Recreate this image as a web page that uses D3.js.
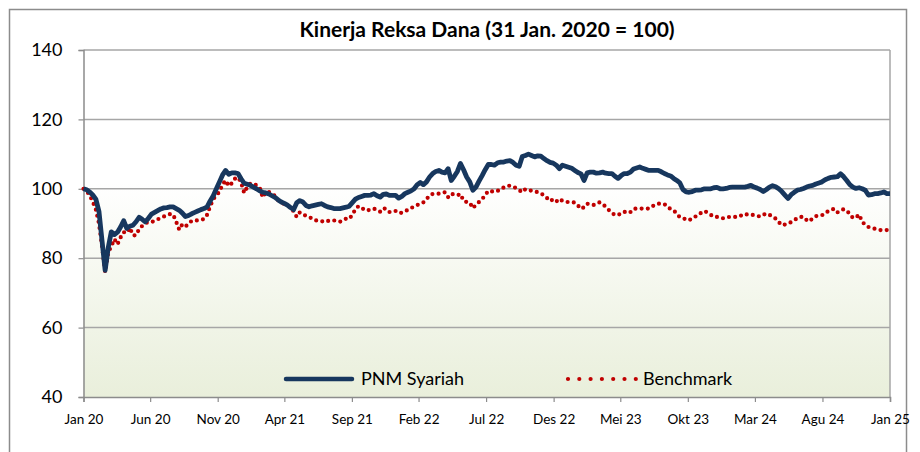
<!DOCTYPE html>
<html>
<head>
<meta charset="utf-8">
<script src="https://cdn.jsdelivr.net/npm/d3@7"></script>
<style>
  body { margin: 0; background: #fff; }
  svg { display: block; }
  .axis text { font-family: Lato, "Open Sans", sans-serif; fill: #000; }
</style>
</head>
<body>
<div id="chart"></div>
<script>
// weekly values, first point = 31 Jan 2020
var startDate = new Date(2020, 0, 31);

var pnmSyariah = [
  100.0, 99.7, 99.1, 98.2, 97.0, 93.5, 85.0, 76.5, 83.0, 87.6, 86.8, 87.5, 89.0,
  90.8, 88.6, 89.2, 89.5, 90.5, 91.8, 91.2, 90.5, 91.5, 92.7, 93.2, 93.7, 94.2,
  94.5, 94.6, 94.8, 94.8, 94.3, 93.8, 93.0, 92.0, 92.3, 92.8, 93.2, 93.6, 94.0,
  94.3, 94.8, 96.5, 98.0, 100.0, 102.0, 104.0, 105.3, 104.2, 104.6, 104.6, 104.4, 102.9,
  101.6, 101.3, 101.0, 100.5, 100.0, 99.4, 99.0, 98.8, 98.5, 98.0, 97.5, 96.8, 96.2,
  95.8, 95.3, 94.6, 94.0, 96.0, 96.6, 96.2, 95.2, 94.8, 95.1, 95.3, 95.5, 95.7,
  95.2, 94.8, 94.6, 94.3, 94.3, 94.3, 94.5, 94.7, 95.0, 96.0, 97.0, 97.5, 97.8,
  98.1, 98.1, 98.2, 98.6, 98.0, 97.6, 98.4, 98.5, 98.1, 98.1, 98.1, 97.3, 97.8,
  98.6, 99.0, 99.4, 100.0, 101.2, 101.8, 101.2, 102.0, 103.4, 104.4, 105.0, 105.3, 104.8,
  104.6, 105.8, 102.4, 103.6, 105.0, 107.3, 105.5, 103.4, 102.0, 99.6, 100.5, 102.2, 103.8,
  105.5, 107.0, 107.0, 106.8, 107.5, 107.7, 107.7, 108.0, 108.1, 107.6, 106.8, 106.5, 109.3,
  109.6, 110.0, 109.6, 109.2, 109.5, 109.4, 108.7, 108.1, 107.6, 107.4, 106.8, 105.8, 106.8,
  106.5, 106.2, 105.9, 105.3, 104.7, 104.3, 102.4, 104.6, 104.8, 104.8, 104.5, 104.6, 104.8,
  104.5, 104.4, 104.4, 103.6, 103.0, 103.8, 104.4, 104.4, 104.8, 105.7, 106.0, 106.3, 105.9,
  105.6, 105.3, 105.3, 105.3, 105.3, 104.9, 104.4, 104.0, 103.7, 103.0, 102.4, 101.7, 99.8,
  99.1, 99.0, 99.2, 99.6, 99.6, 99.7, 100.0, 100.0, 100.0, 100.3, 100.4, 100.0, 100.0,
  100.1, 100.4, 100.5, 100.5, 100.5, 100.5, 100.5, 100.7, 101.0, 100.5, 100.2, 99.8, 99.2,
  99.8, 100.5, 100.9, 100.6, 100.0, 99.2, 98.2, 97.2, 98.3, 99.0, 99.6, 99.8, 100.1,
  100.5, 100.8, 101.0, 101.4, 101.7, 102.0, 102.6, 103.0, 103.3, 103.4, 103.5, 104.3, 103.5,
  102.4, 101.2, 100.5, 100.1, 100.3, 100.0, 99.6, 98.2, 98.3, 98.6, 98.6, 98.8, 99.1,
  98.6, 98.6
];

var benchmark = [
  100.0, 99.4, 98.1, 96.3, 94.0, 90.0, 83.5, 76.0, 81.6, 83.5, 85.5, 84.0, 86.0,
  87.5, 87.3, 88.8, 86.6, 86.6, 88.4, 89.3, 90.1, 90.4, 90.4, 90.8, 91.2, 91.6,
  92.0, 92.4, 92.7, 92.6, 90.5, 88.2, 89.8, 89.2, 89.8, 90.8, 90.9, 90.9, 91.0,
  91.3, 92.5, 95.0, 97.0, 98.2, 99.1, 101.3, 102.4, 100.8, 101.6, 102.9, 103.3, 101.8,
  98.8, 100.5, 101.5, 101.5, 101.0, 100.4, 97.5, 99.1, 99.1, 98.6, 97.9, 96.7, 96.0,
  95.6, 95.2, 94.6, 93.5, 91.9, 93.2, 92.7, 92.2, 91.9, 91.4, 90.9, 90.9, 90.7,
  90.4, 90.7, 90.9, 90.9, 90.7, 90.5, 91.1, 91.4, 91.3, 92.5, 94.1, 95.0, 94.6,
  93.8, 93.8, 94.0, 94.3, 93.8, 93.4, 94.4, 94.2, 93.3, 93.6, 93.6, 93.0, 93.1,
  93.4, 94.0, 94.5, 94.8, 95.3, 95.8, 96.1, 97.0, 98.1, 98.5, 98.6, 98.6, 98.9,
  99.0, 97.6, 98.6, 98.3, 98.1, 98.5, 96.5, 96.2, 96.0, 94.4, 95.4, 96.2, 97.0,
  98.2, 99.4, 99.3, 99.1, 99.4, 99.8, 100.4, 100.8, 100.9, 100.6, 100.2, 99.6, 99.0,
  99.9, 99.7, 99.4, 99.1, 99.1, 98.7, 98.1, 97.3, 97.5, 96.2, 96.3, 97.1, 96.5,
  96.2, 96.2, 96.2, 96.0, 95.2, 94.2, 94.7, 95.7, 95.5, 95.3, 95.7, 96.1, 95.6,
  94.8, 93.9, 93.0, 92.5, 92.4, 93.0, 93.4, 93.0, 93.3, 94.2, 94.3, 94.3, 94.3,
  94.3, 94.3, 94.9, 95.4, 95.7, 95.7, 95.6, 94.7, 94.2, 93.8, 92.8, 91.8, 91.5,
  91.2, 90.9, 91.6, 92.0, 92.4, 93.2, 93.6, 93.1, 92.5, 91.9, 91.9, 91.8, 91.5,
  91.6, 91.9, 91.9, 91.9, 91.9, 92.4, 92.8, 92.5, 92.6, 92.4, 92.2, 92.0, 92.5,
  92.9, 92.5, 92.0, 91.4, 90.4, 89.5, 89.7, 90.0, 90.4, 90.9, 91.6, 91.9, 91.9,
  91.0, 90.6, 91.6, 92.1, 92.4, 92.4, 92.8, 93.6, 94.0, 94.2, 93.2, 93.8, 94.1,
  93.7, 92.7, 91.6, 91.7, 92.6, 90.5, 89.6, 89.0, 88.8, 88.5, 88.2, 88.1, 88.1,
  88.1, 88.1
];

var tickLabels = ["Jan 20", "Jun 20", "Nov 20", "Apr 21", "Sep 21", "Feb 22", "Jul 22",
                  "Des 22", "Mei 23", "Okt 23", "Mar 24", "Agu 24", "Jan 25"];
var yTicks = [40, 60, 80, 100, 120, 140];
var seriesNames = ["PNM Syariah", "Benchmark"];

var W = 920, H = 452;
var plot = {left: 83.5, right: 890, top: 50, bottom: 397};
var font = "Lato, 'Open Sans', sans-serif";

// month-end tick dates every 5 months
var tickDates = tickLabels.map(function(d, k) { return new Date(2020, 5 * k + 1, 0); });

var x = d3.scaleTime()
    .domain([tickDates[0], tickDates[tickDates.length - 1]])
    .range([plot.left, plot.right]);

var y = d3.scaleLinear()
    .domain([40, 140])
    .range([plot.bottom, plot.top]);

var svg = d3.select("#chart").append("svg")
    .attr("width", W)
    .attr("height", H);

var defs = svg.append("defs");
var grad = defs.append("linearGradient")
    .attr("id", "bg")
    .attr("x1", 0).attr("y1", 0).attr("x2", 0).attr("y2", 1);
grad.append("stop").attr("offset", "0%").attr("stop-color", "#ffffff");
grad.append("stop").attr("offset", "38%").attr("stop-color", "#ffffff");
grad.append("stop").attr("offset", "100%").attr("stop-color", "#e9efdb");

// outer frame
svg.append("rect")
    .attr("x", 9.5).attr("y", 9.5)
    .attr("width", 897).attr("height", 470)
    .attr("fill", "none")
    .attr("stroke", "#8c8c8c")
    .attr("stroke-width", 1.5);

// plot background
svg.append("rect")
    .attr("x", plot.left).attr("y", plot.top)
    .attr("width", plot.right - plot.left)
    .attr("height", plot.bottom - plot.top)
    .attr("fill", "url(#bg)");

// gridlines
svg.append("g")
    .selectAll("line")
    .data(yTicks.slice(1))
  .enter().append("line")
    .attr("x1", plot.left).attr("x2", plot.right)
    .attr("y1", function(d) { return y(d); })
    .attr("y2", function(d) { return y(d); })
    .attr("stroke", "#a6a6a6")
    .attr("stroke-width", 1.5);

// right border of plot
svg.append("line")
    .attr("x1", plot.right).attr("x2", plot.right)
    .attr("y1", plot.top).attr("y2", plot.bottom)
    .attr("stroke", "#a6a6a6")
    .attr("stroke-width", 1.5);

var xAxis = d3.axisBottom(x)
    .tickValues(tickDates)
    .tickFormat(function(d, i) { return tickLabels[i]; })
    .tickSize(5)
    .tickPadding(12);

var yAxis = d3.axisLeft(y)
    .tickValues(yTicks)
    .tickSize(5)
    .tickPadding(16);

var gx = svg.append("g")
    .attr("class", "axis x")
    .attr("transform", "translate(0," + plot.bottom + ")")
    .call(xAxis);
gx.select(".domain").attr("stroke", "#8c8c8c").attr("stroke-width", 1.5);
gx.selectAll(".tick line").attr("stroke", "#8c8c8c").attr("stroke-width", 1.2);
gx.selectAll("text").style("font-size", "13.5px");

var gy = svg.append("g")
    .attr("class", "axis y")
    .attr("transform", "translate(" + plot.left + ",0)")
    .call(yAxis);
gy.select(".domain").attr("stroke", "#8c8c8c").attr("stroke-width", 1.5);
gy.selectAll(".tick line").attr("stroke", "#8c8c8c").attr("stroke-width", 1.2);
gy.selectAll("text").style("font-size", "18px");

// series
var dateOf = function(i) { return d3.timeDay.offset(startDate, 7 * i); };

var line = d3.line()
    .x(function(d, i) { return x(dateOf(i)); })
    .y(function(d) { return y(d); });

svg.append("path")
    .datum(benchmark)
    .attr("d", line)
    .attr("fill", "none")
    .attr("stroke", "#c00000")
    .attr("stroke-width", 4.2)
    .attr("stroke-linecap", "round")
    .attr("stroke-dasharray", "0,6.2");

svg.append("path")
    .datum(pnmSyariah)
    .attr("d", line)
    .attr("fill", "none")
    .attr("stroke", "#17375e")
    .attr("stroke-width", 4.8)
    .attr("stroke-linejoin", "round");

// legend
var legend = svg.append("g").attr("class", "legend");
legend.append("line")
    .attr("x1", 286).attr("x2", 352)
    .attr("y1", 379).attr("y2", 379)
    .attr("stroke", "#17375e")
    .attr("stroke-width", 4.5)
    .attr("stroke-linecap", "round");
legend.append("line")
    .attr("x1", 568).attr("x2", 636)
    .attr("y1", 379).attr("y2", 379)
    .attr("stroke", "#c00000")
    .attr("stroke-width", 4.2)
    .attr("stroke-linecap", "round")
    .attr("stroke-dasharray", "0,11.3");
legend.selectAll("text")
    .data(seriesNames)
  .enter().append("text")
    .attr("x", function(d, i) { return i === 0 ? 361 : 643; })
    .attr("y", 379)
    .attr("dy", "0.35em")
    .style("font-family", font)
    .style("font-size", "18px")
    .text(function(d) { return d; });

// title
svg.append("text")
    .attr("x", 487)
    .attr("y", 30)
    .attr("dy", "0.35em")
    .attr("text-anchor", "middle")
    .style("font-family", font)
    .style("font-weight", "bold")
    .style("font-size", "21px")
    .text("Kinerja Reksa Dana (31 Jan. 2020 = 100)");
</script>
</body>
</html>
